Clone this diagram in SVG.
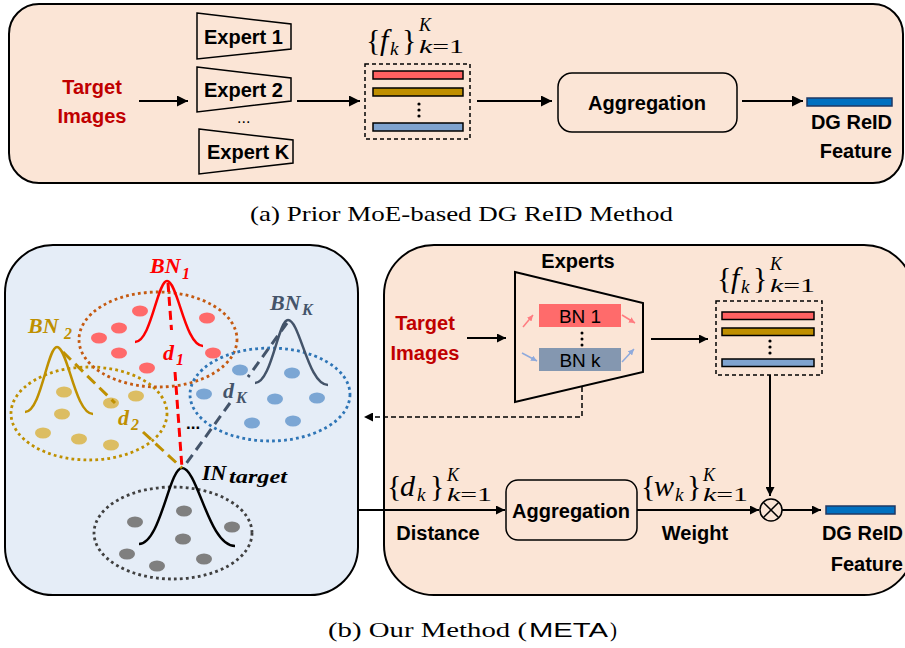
<svg xmlns="http://www.w3.org/2000/svg" width="905" height="648" viewBox="0 0 905 648">
<style>
.sb{font-family:"Liberation Sans",Arial,sans-serif;font-weight:bold;font-size:20px;fill:#000}
.red{fill:#C00000}
.bn{font-family:"Liberation Sans",Arial,sans-serif;font-size:19px;fill:#000}
.m{font-family:"Liberation Serif","DejaVu Serif",serif;font-style:italic;fill:#000}
.mr{font-family:"Liberation Serif","DejaVu Serif",serif;fill:#000}
.up{font-style:normal}
.bi{font-family:"Liberation Serif","DejaVu Serif",serif;font-style:italic;font-weight:bold}
.cap{font-family:"Liberation Serif","Times New Roman",serif;font-size:21px;fill:#000}
.ln{stroke:#000;stroke-width:2;fill:none}
.dot{fill:none;stroke-width:2.8;stroke-dasharray:2.8 3.2}
.gau{fill:none;stroke-width:2.5}
.bar{stroke:#000;stroke-width:1.5}
</style>
<defs>
<marker id="ah" viewBox="0 0 10 10" refX="10" refY="5" markerWidth="13" markerHeight="11" markerUnits="userSpaceOnUse" orient="auto"><path d="M0,0 L10,5 L0,10 z" fill="#000"/></marker>
<marker id="ahs" viewBox="0 0 10 10" refX="10" refY="5" markerWidth="10" markerHeight="9" markerUnits="userSpaceOnUse" orient="auto"><path d="M0,0 L10,5 L0,10 z" fill="#000"/></marker>
<marker id="ahr" viewBox="0 0 10 10" refX="10" refY="5" markerWidth="6" markerHeight="6" markerUnits="userSpaceOnUse" orient="auto"><path d="M0,0 L10,5 L0,10 z" fill="#FF7C80"/></marker>
<marker id="ahb" viewBox="0 0 10 10" refX="10" refY="5" markerWidth="6" markerHeight="6" markerUnits="userSpaceOnUse" orient="auto"><path d="M0,0 L10,5 L0,10 z" fill="#8FAADC"/></marker>
</defs>

<!-- (a) panel -->
<g id="panel-a">
<rect x="9" y="4" width="894" height="179" rx="30" fill="#FBE5D6" stroke="#000" stroke-width="2"/>
</g>
<g id="a-target">
<text class="sb red" x="92" y="94" text-anchor="middle">Target</text>
<text class="sb red" x="92" y="123" text-anchor="middle">Images</text>
</g>
<g id="a-expert1">
<polygon points="197,13 291,24 291,49 197,59" fill="none" stroke="#000" stroke-width="1.5"/>
<text class="sb" x="204" y="44">Expert 1</text>
</g>
<g id="a-expert2">
<polygon points="197,67 291,78 291,101 197,112" fill="none" stroke="#000" stroke-width="1.5"/>
<text class="sb" x="204" y="97">Expert 2</text>
</g>
<text x="237" y="123" font-family="Liberation Sans,Arial,sans-serif" font-size="16">...</text>
<g id="a-expertK">
<polygon points="199,129 293,140 293,163 199,174" fill="none" stroke="#000" stroke-width="1.5"/>
<text class="sb" x="207" y="159">Expert K</text>
</g>
<g id="a-features">
<text class="mr" x="366" y="50" font-size="30">{</text>
<text class="m" x="380" y="50" font-size="30">f</text>
<text class="m" x="390" y="55" font-size="19">k</text>
<text class="mr" x="402" y="50" font-size="30">}</text>
<text class="m" x="419" y="31" font-size="18">K</text>
<text class="m" x="419" y="53" font-size="18" textLength="45" lengthAdjust="spacingAndGlyphs">k<tspan class="up">=1</tspan></text>
<rect x="365" y="64" width="105" height="75" fill="none" stroke="#000" stroke-width="1.5" stroke-dasharray="4 3"/>
<rect class="bar" x="373" y="71" width="90" height="8" fill="#FF6161"/>
<rect class="bar" x="373" y="88" width="90" height="8" fill="#BF8F00"/>
<circle cx="419" cy="104" r="1.6"/><circle cx="419" cy="110" r="1.6"/><circle cx="419" cy="116" r="1.6"/>
<rect class="bar" x="373" y="123" width="90" height="8" fill="#7FA3CF"/>
</g>
<g id="a-aggregation">
<rect x="558" y="73" width="179" height="59" rx="14" fill="none" stroke="#000" stroke-width="1.5"/>
<text class="sb" x="647" y="110" text-anchor="middle">Aggregation</text>
</g>
<g id="a-output">
<rect x="807" y="98" width="85" height="8" fill="#0070C0" stroke="#1F3864" stroke-width="1.5"/>
<text class="sb" x="892" y="129" text-anchor="end">DG ReID</text>
<text class="sb" x="892" y="158" text-anchor="end">Feature</text>
</g>
<g id="a-connectors">
<line class="ln" x1="139" y1="101" x2="188" y2="101" marker-end="url(#ah)"/>
<line class="ln" x1="297" y1="101" x2="360" y2="101" marker-end="url(#ah)"/>
<line class="ln" x1="477" y1="101" x2="552" y2="101" marker-end="url(#ah)"/>
<line class="ln" x1="742" y1="101" x2="803" y2="101" marker-end="url(#ah)"/>
</g>
<text class="cap" x="250" y="221" textLength="423" lengthAdjust="spacingAndGlyphs">(a) Prior MoE-based DG ReID Method</text>

<!-- (b) left panel -->
<g id="panel-b-left">
<rect x="5" y="245" width="353" height="350" rx="48" fill="#E5EDF7" stroke="#000" stroke-width="2"/>
</g>
<g id="cluster-bn2">
<ellipse class="dot" cx="89" cy="413.5" rx="78" ry="46.5" stroke="#BF9000"/>
<g fill="#DCBD62">
<ellipse cx="64" cy="392" rx="8" ry="5.5"/><ellipse cx="136" cy="396" rx="8" ry="5.5"/><ellipse cx="111" cy="403" rx="8" ry="5.5"/>
<ellipse cx="62" cy="414" rx="8" ry="5.5"/><ellipse cx="43" cy="433" rx="8" ry="5.5"/><ellipse cx="79" cy="439" rx="8" ry="5.5"/><ellipse cx="111" cy="445" rx="8" ry="5.5"/>
</g>
<path class="gau" stroke="#BF9000" d="M25,412 C41,412 47.4,347 57,347 C67.8,347 75,414 93,414"/>
<text class="bi" fill="#BF9000" x="28" y="333" font-size="22">BN</text>
<text class="bi" fill="#BF9000" x="64" y="339" font-size="16">2</text>
</g>
<g id="cluster-bn1">
<ellipse class="dot" cx="158" cy="339.5" rx="79" ry="47.5" stroke="#C55A11"/>
<g fill="#FF6A6A">
<ellipse cx="140" cy="311" rx="8" ry="5.5"/><ellipse cx="207" cy="318" rx="8" ry="5.5"/><ellipse cx="119" cy="328" rx="8" ry="5.5"/>
<ellipse cx="99" cy="338" rx="8" ry="5.5"/><ellipse cx="119" cy="353" rx="8" ry="5.5"/><ellipse cx="213" cy="353" rx="8" ry="5.5"/><ellipse cx="147" cy="368" rx="8" ry="5.5"/>
</g>
<path class="gau" stroke="#FF0000" d="M135,342 C151,342 157.4,281 167,281 C177.8,281 185,346 203,346"/>
<text class="bi" fill="#FF0000" x="150" y="273" font-size="22">BN</text>
<text class="bi" fill="#FF0000" x="182" y="279" font-size="16">1</text>
</g>
<g id="cluster-bnK">
<ellipse class="dot" cx="270" cy="394.5" rx="80" ry="46.5" stroke="#2E75B6"/>
<g fill="#7BA6D4">
<ellipse cx="240" cy="370" rx="8" ry="5.5"/><ellipse cx="292" cy="373" rx="8" ry="5.5"/><ellipse cx="204" cy="394" rx="8" ry="5.5"/>
<ellipse cx="275" cy="399" rx="8" ry="5.5"/><ellipse cx="317" cy="398" rx="8" ry="5.5"/><ellipse cx="252" cy="423" rx="8" ry="5.5"/><ellipse cx="293" cy="421" rx="8" ry="5.5"/>
</g>
<path class="gau" stroke="#44546A" d="M255,383 C271.5,383 278.1,320 288,320 C300,320 308,385 328,385"/>
<text class="bi" fill="#44546A" x="270" y="310" font-size="22">BN</text>
<text class="bi" fill="#44546A" x="302" y="315" font-size="16">K</text>
</g>
<g id="cluster-target">
<ellipse class="dot" cx="173" cy="533" rx="79" ry="46" stroke="#404040"/>
<g fill="#7F7F7F">
<ellipse cx="184" cy="511" rx="8" ry="5.5"/><ellipse cx="135" cy="522" rx="8" ry="5.5"/><ellipse cx="232" cy="527" rx="8" ry="5.5"/>
<ellipse cx="183" cy="539" rx="8" ry="5.5"/><ellipse cx="127" cy="554" rx="8" ry="5.5"/><ellipse cx="157" cy="566" rx="8" ry="5.5"/><ellipse cx="204" cy="559" rx="8" ry="5.5"/>
</g>
<path class="gau" stroke="#000" d="M139,544 C160.5,544 169.1,468 182,468 C197.9,468 208.5,546 235,546"/>
<text class="bi" fill="#000" x="202" y="480" font-size="22">IN</text>
<text class="bi" fill="#000" x="229" y="483" font-size="18" textLength="58" lengthAdjust="spacingAndGlyphs">target</text>
</g>
<g id="distances">
<path d="M168,283 L171.5,330 M175,372 L182,468" stroke="#FF0000" stroke-width="3" stroke-dasharray="9 5" fill="none"/>
<path d="M63,352 L115,403 M143,432 L182,468" stroke="#BF9000" stroke-width="3" stroke-dasharray="11 6" fill="none"/>
<path d="M287,323 L248,377 M230,403 L183,468" stroke="#44546A" stroke-width="3" stroke-dasharray="10 6" fill="none"/>
<text class="bi" fill="#FF0000" x="163" y="360" font-size="22">d</text>
<text class="bi" fill="#FF0000" x="176" y="365" font-size="16">1</text>
<text class="bi" fill="#BF9000" x="118" y="425" font-size="22">d</text>
<text class="bi" fill="#BF9000" x="131" y="430" font-size="16">2</text>
<text class="bi" fill="#44546A" x="223" y="398" font-size="22">d</text>
<text class="bi" fill="#44546A" x="236" y="403" font-size="16">K</text>
<text x="186" y="429" font-family="Liberation Sans,Arial,sans-serif" font-weight="bold" font-size="17">...</text>
</g>

<!-- (b) right panel -->
<g id="panel-b-right">
<rect x="384" y="245" width="530" height="350" rx="50" fill="#FBE5D6" stroke="#000" stroke-width="2"/>
</g>
<g id="b-target">
<text class="sb red" x="425" y="330" text-anchor="middle">Target</text>
<text class="sb red" x="425" y="360" text-anchor="middle">Images</text>
</g>
<g id="b-experts">
<text class="sb" x="578" y="268" text-anchor="middle">Experts</text>
<polygon points="515,272 643,303 643,372 515,402" fill="none" stroke="#000" stroke-width="2"/>
<rect x="539" y="304" width="82" height="23" fill="#FF6B6B"/>
<text class="bn" x="580" y="323" text-anchor="middle">BN 1</text>
<circle cx="582" cy="333" r="1.5"/><circle cx="582" cy="339" r="1.5"/><circle cx="582" cy="345" r="1.5"/>
<rect x="539" y="348" width="82" height="23" fill="#8497B0"/>
<text class="bn" x="580" y="367" text-anchor="middle">BN k</text>
<line x1="523" y1="327" x2="533" y2="315" stroke="#FF7C80" stroke-width="1.5" marker-end="url(#ahr)"/>
<line x1="622" y1="315" x2="635" y2="323" stroke="#FF7C80" stroke-width="1.5" marker-end="url(#ahr)"/>
<line x1="522" y1="353" x2="537" y2="361" stroke="#8FAADC" stroke-width="1.5" marker-end="url(#ahb)"/>
<line x1="622" y1="362" x2="634" y2="349" stroke="#8FAADC" stroke-width="1.5" marker-end="url(#ahb)"/>
</g>
<g id="b-features">
<text class="mr" x="717" y="288" font-size="30">{</text>
<text class="m" x="731" y="288" font-size="30">f</text>
<text class="m" x="741" y="293" font-size="19">k</text>
<text class="mr" x="753" y="288" font-size="30">}</text>
<text class="m" x="770" y="270" font-size="18">K</text>
<text class="m" x="770" y="292" font-size="18" textLength="45" lengthAdjust="spacingAndGlyphs">k<tspan class="up">=1</tspan></text>
<rect x="716" y="301" width="106" height="74" fill="none" stroke="#000" stroke-width="1.5" stroke-dasharray="4 3"/>
<rect class="bar" x="722" y="312" width="92" height="7.5" fill="#FF6161"/>
<rect class="bar" x="722" y="328" width="92" height="7.5" fill="#BF8F00"/>
<circle cx="770" cy="341" r="1.6"/><circle cx="770" cy="347" r="1.6"/><circle cx="770" cy="353" r="1.6"/>
<rect class="bar" x="722" y="359" width="92" height="7.5" fill="#7FA3CF"/>
</g>
<g id="b-aggregation">
<rect x="506" y="480" width="131" height="60" rx="12" fill="none" stroke="#000" stroke-width="1.5"/>
<text class="sb" x="571" y="518" text-anchor="middle">Aggregation</text>
</g>
<g id="b-dist-label">
<text class="mr" x="387" y="496" font-size="30">{</text>
<text class="m" x="400" y="496" font-size="30">d</text>
<text class="m" x="417" y="501" font-size="19">k</text>
<text class="mr" x="430" y="496" font-size="30">}</text>
<text class="m" x="447" y="481" font-size="18">K</text>
<text class="m" x="447" y="501" font-size="18" textLength="45" lengthAdjust="spacingAndGlyphs">k<tspan class="up">=1</tspan></text>
<text class="sb" x="438" y="540" text-anchor="middle">Distance</text>
</g>
<g id="b-weight-label">
<text class="mr" x="641" y="496" font-size="30">{</text>
<text class="m" x="654" y="496" font-size="30">w</text>
<text class="m" x="675" y="501" font-size="19">k</text>
<text class="mr" x="687" y="496" font-size="30">}</text>
<text class="m" x="703" y="481" font-size="18">K</text>
<text class="m" x="703" y="501" font-size="18" textLength="45" lengthAdjust="spacingAndGlyphs">k<tspan class="up">=1</tspan></text>
<text class="sb" x="695" y="540" text-anchor="middle">Weight</text>
</g>
<g id="b-product">
<circle cx="771" cy="510" r="11" fill="none" stroke="#000" stroke-width="1.5"/>
<path d="M763.2,502.2 L778.8,517.8 M778.8,502.2 L763.2,517.8" stroke="#000" stroke-width="1.5"/>
</g>
<g id="b-output">
<rect x="826" y="506" width="69" height="8" fill="#0070C0" stroke="#1F3864" stroke-width="1.5"/>
<text class="sb" x="903" y="540" text-anchor="end">DG ReID</text>
<text class="sb" x="903" y="571" text-anchor="end">Feature</text>
</g>
<g id="b-connectors">
<line class="ln" x1="467" y1="338" x2="506" y2="338" marker-end="url(#ahs)"/>
<line class="ln" x1="651" y1="339" x2="708" y2="339" marker-end="url(#ahs)"/>
<path d="M582,387 V417 H364" fill="none" stroke="#000" stroke-width="1.5" stroke-dasharray="5 3" marker-end="url(#ahs)"/>
<line class="ln" x1="770" y1="375" x2="770" y2="496" marker-end="url(#ahs)"/>
<line class="ln" x1="359" y1="510" x2="505" y2="510" marker-end="url(#ahs)"/>
<line class="ln" x1="637" y1="510" x2="759" y2="510" marker-end="url(#ahs)"/>
<line class="ln" x1="782" y1="510" x2="821" y2="510" marker-end="url(#ahs)"/>
</g>
<text class="cap" x="328" y="637" textLength="199" lengthAdjust="spacingAndGlyphs">(b) Our Method (</text>
<text x="529" y="637" font-family="Liberation Sans,Arial,sans-serif" font-size="20" textLength="79" lengthAdjust="spacingAndGlyphs">META</text>
<text class="cap" x="610" y="637">)</text>
</svg>
